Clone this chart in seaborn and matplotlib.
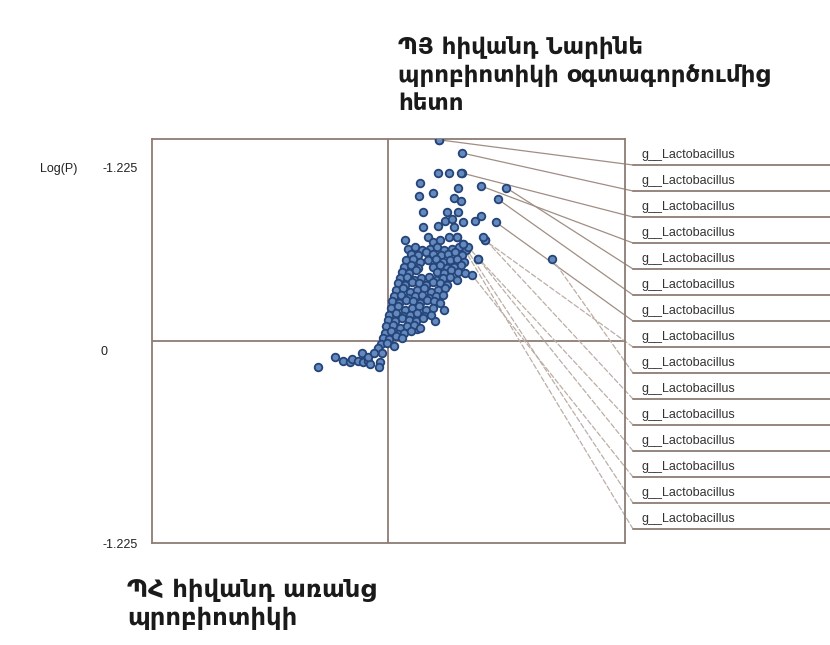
import seaborn as sns
import pandas as pd
import matplotlib.pyplot as plt
from matplotlib.lines import Line2D

# S-plot: loadings (p) vs Log(P)
# ---- data ----
cluster_x = [
    0.051, 0.074, 0.050, 0.061, 0.032, 0.031, 0.045, 0.070, 0.066, 0.073,
    0.035, 0.059, 0.070, 0.087, 0.093, 0.035, 0.050, 0.057, 0.064, 0.066,
    0.075, 0.017, 0.040, 0.045, 0.052, 0.061, 0.069, 0.075, 0.097, 0.090,
    0.056, 0.047, 0.029,
    0.020, 0.027, 0.034, 0.042, 0.049, 0.056, 0.064, 0.071, 0.078,
    0.023, 0.030, 0.038, 0.045, 0.053, 0.060, 0.067, 0.074,
    0.018, 0.025, 0.032, 0.040, 0.048, 0.055, 0.062, 0.069, 0.076,
    0.016, 0.023, 0.030, 0.045, 0.052, 0.059, 0.066, 0.073,
    0.014, 0.021, 0.028, 0.049, 0.056, 0.063, 0.070, 0.077,
    0.012, 0.019, 0.026, 0.033, 0.041, 0.048, 0.055, 0.062, 0.069,
    0.010, 0.017, 0.024, 0.031, 0.038, 0.045, 0.052, 0.059,
    0.008, 0.015, 0.022, 0.029, 0.036, 0.043, 0.050, 0.057,
    0.006, 0.013, 0.020, 0.027, 0.034, 0.041, 0.048, 0.055,
    0.004, 0.011, 0.018, 0.025, 0.032, 0.039, 0.046, 0.052,
    0.003, 0.010, 0.017, 0.024, 0.031, 0.038, 0.045,
    0.001, 0.008, 0.015, 0.022, 0.029, 0.036, 0.043,
    0.000, 0.007, 0.014, 0.021, 0.028, 0.035,
    -0.002, 0.005, 0.012, 0.019, 0.026, 0.032,
    -0.003, 0.003, 0.010, 0.016, 0.023,
    -0.005, 0.001, 0.008, 0.014,
    -0.007, -0.001, 0.006,
    -0.010, -0.006, -0.008, -0.009, -0.070, -0.053, -0.045, -0.038, -0.036,
    -0.030, -0.026, -0.025, -0.020, -0.018, -0.020, -0.014,
]
cluster_y = [
    1.22, 1.02, 1.02, 1.02, 0.96, 0.88, 0.90, 0.93, 0.87, 0.85,
    0.78, 0.78, 0.78, 0.73, 0.76, 0.69, 0.70, 0.73, 0.74, 0.69,
    0.72, 0.61, 0.63, 0.60, 0.61, 0.63, 0.63, 0.59, 0.61, 0.50,
    0.19, 0.12, 0.07,
    0.56, 0.57, 0.55, 0.56, 0.57, 0.55, 0.56, 0.57, 0.55,
    0.53, 0.52, 0.54, 0.53, 0.52, 0.53, 0.54, 0.52,
    0.49, 0.50, 0.48, 0.49, 0.50, 0.48, 0.49, 0.50, 0.48,
    0.45, 0.46, 0.44, 0.45, 0.46, 0.44, 0.45, 0.46,
    0.42, 0.41, 0.43, 0.42, 0.41, 0.43, 0.42, 0.41,
    0.38, 0.39, 0.37, 0.38, 0.39, 0.37, 0.38, 0.39, 0.37,
    0.35, 0.34, 0.36, 0.35, 0.34, 0.36, 0.35, 0.34,
    0.31, 0.32, 0.30, 0.31, 0.32, 0.30, 0.31, 0.32,
    0.27, 0.28, 0.26, 0.27, 0.28, 0.26, 0.27, 0.28,
    0.24, 0.23, 0.25, 0.24, 0.23, 0.25, 0.24, 0.23,
    0.20, 0.21, 0.19, 0.20, 0.21, 0.19, 0.20,
    0.16, 0.17, 0.15, 0.16, 0.17, 0.15, 0.16,
    0.13, 0.12, 0.14, 0.13, 0.12, 0.14,
    0.09, 0.10, 0.08, 0.09, 0.10, 0.08,
    0.05, 0.06, 0.04, 0.05, 0.06,
    0.02, 0.01, 0.03, 0.02,
    -0.02, -0.01, -0.03,
    -0.04, -0.07, -0.13, -0.16, -0.16, -0.10, -0.12, -0.13, -0.11,
    -0.12, -0.07, -0.13, -0.12, -0.14, -0.10, -0.07,
]

# the labelled features (one per label row, top to bottom)
lacto_x = [0.051, 0.074, 0.073, 0.093, 0.118, 0.110, 0.108, 0.097,
           0.164, 0.095, 0.080, 0.090, 0.084, 0.075, 0.069]
lacto_y = [1.22, 1.14, 1.02, 0.94, 0.93, 0.86, 0.72, 0.61,
           0.50, 0.63, 0.57, 0.50, 0.40, 0.59, 0.63]
lacto_names = ["g__Lactobacillus"] * 15

ytick_labels = ["-1.225", "0", "-1.225"]
top_title = "ՊՅ հիվանդ Նարինե\nպրոբիոտիկի օգտագործումից\nհետո"
bottom_title = "ՊՀ հիվանդ առանց\nպրոբիոտիկի"

df = pd.DataFrame({"p": cluster_x + lacto_x, "logp": cluster_y + lacto_y})

sns.set_style("white")
plt.rcParams['font.family'] = ['DejaVu Sans']

W, H = 830, 645
fig = plt.figure(figsize=(W / 100, H / 100), dpi=100)
ax = fig.add_axes([152 / W, 1 - 543 / H, 473 / W, 404 / H])

frame = "#8c7c74"
sns.scatterplot(data=df, x="p", y="logp", ax=ax, s=30, marker="o",
                color="#6489bd", edgecolor="#25457a", linewidth=1.3, zorder=3)
ax.axhline(0, color=frame, lw=1.3, zorder=1)
ax.axvline(0, color=frame, lw=1.3, zorder=1)
ax.set_xlim(-0.236, 0.237)
ax.set_ylim(-1.225, 1.225)
ax.set_xticks([])
ax.set_yticks([])
ax.set_xlabel("")
ax.set_ylabel("")
for sp in ax.spines.values():
    sp.set_color(frame)
    sp.set_linewidth(1.3)

# label column with leader lines
for i, (fx, fy, name) in enumerate(zip(lacto_x, lacto_y, lacto_names)):
    ty = 155 + i * 26
    uy = 1 - (ty + 10) / H
    ls = "-" if i < 7 else (0, (4, 2))
    col = "#a08e84" if i < 7 else "#bcaea6"
    ax.annotate("", xy=(fx, fy), xycoords="data", xytext=(633 / W, uy),
                textcoords="figure fraction", zorder=2,
                arrowprops=dict(arrowstyle="-", color=col, lw=0.9, ls=ls,
                                shrinkA=0, shrinkB=0))
    fig.add_artist(Line2D([633 / W, 1.0], [uy, uy], transform=fig.transFigure,
                          color=frame, lw=1.3))
    fig.text(641 / W, 1 - ty / H, name, fontsize=9, family=["Liberation Sans"],
             va="center", ha="left", color="#333333")

# axis texts
fig.text(40 / W, 1 - 169 / H, "Log(P)", fontsize=9, family=["Liberation Sans"],
         va="center", ha="left", color="#222222")
for lab, px, py, ha in zip(ytick_labels, [138, 104, 138], [169, 352, 545],
                           ["right", "center", "right"]):
    fig.text(px / W, 1 - py / H, lab, fontsize=9, family=["Liberation Sans"],
             va="center", ha=ha, color="#222222")

fig.text(398 / W, 1 - 36 / H, top_title, fontsize=16.5, fontweight="bold",
         va="top", ha="left", color="#1a1a1a", linespacing=1.28)
fig.text(127 / W, 1 - 578 / H, bottom_title, fontsize=17.5, fontweight="bold",
         va="top", ha="left", color="#1a1a1a", linespacing=1.2)

fig.savefig("out.png", dpi=100, facecolor="white")
